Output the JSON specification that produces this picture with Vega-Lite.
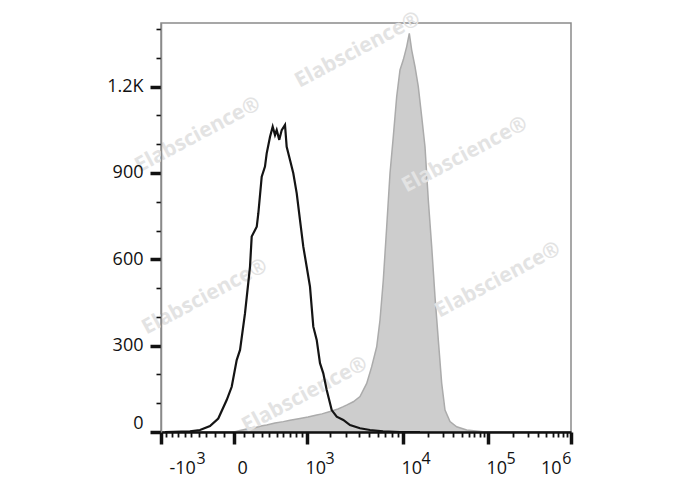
{
  "$schema": "https://vega.github.io/schema/vega-lite/v6.json",
  "width": 410,
  "height": 409,
  "autosize": {"type": "none"},
  "padding": {"left": 161, "top": 23, "right": 117, "bottom": 58},
  "background": "white",
  "config": {"view": {"stroke": "#8a8a8a", "strokeWidth": 1.5}, "font": "Open Sans"},
  "resolve": {"axis": {"x": "independent", "y": "independent"}},
  "datasets": {
    "stained": [
      {"fluorescence": 0, "count": 0},
      {"fluorescence": 59, "count": 5},
      {"fluorescence": 164, "count": 13},
      {"fluorescence": 221, "count": 15},
      {"fluorescence": 305, "count": 22},
      {"fluorescence": 364, "count": 24},
      {"fluorescence": 476, "count": 31},
      {"fluorescence": 597, "count": 36},
      {"fluorescence": 702, "count": 41},
      {"fluorescence": 871, "count": 47},
      {"fluorescence": 1036, "count": 52},
      {"fluorescence": 1376, "count": 59},
      {"fluorescence": 1610, "count": 63},
      {"fluorescence": 2009, "count": 71},
      {"fluorescence": 2468, "count": 80},
      {"fluorescence": 2810, "count": 88},
      {"fluorescence": 3069, "count": 94},
      {"fluorescence": 3551, "count": 105},
      {"fluorescence": 4126, "count": 123},
      {"fluorescence": 4773, "count": 169},
      {"fluorescence": 5310, "count": 227},
      {"fluorescence": 5896, "count": 296},
      {"fluorescence": 6312, "count": 389},
      {"fluorescence": 6753, "count": 528},
      {"fluorescence": 7236, "count": 713},
      {"fluorescence": 7733, "count": 899},
      {"fluorescence": 8259, "count": 1026},
      {"fluorescence": 8835, "count": 1165},
      {"fluorescence": 9429, "count": 1258},
      {"fluorescence": 10087, "count": 1293},
      {"fluorescence": 11115, "count": 1339},
      {"fluorescence": 11966, "count": 1385},
      {"fluorescence": 12803, "count": 1327},
      {"fluorescence": 14044, "count": 1269},
      {"fluorescence": 15395, "count": 1200},
      {"fluorescence": 16915, "count": 1096},
      {"fluorescence": 18526, "count": 991},
      {"fluorescence": 20281, "count": 806},
      {"fluorescence": 22256, "count": 644},
      {"fluorescence": 24347, "count": 470},
      {"fluorescence": 26626, "count": 320},
      {"fluorescence": 29188, "count": 169},
      {"fluorescence": 31901, "count": 76},
      {"fluorescence": 36486, "count": 36},
      {"fluorescence": 43641, "count": 18},
      {"fluorescence": 56933, "count": 7},
      {"fluorescence": 87650, "count": 1},
      {"fluorescence": 121550, "count": 0}
    ],
    "control": [
      {"fluorescence": -925, "count": 0},
      {"fluorescence": -519, "count": 2},
      {"fluorescence": -381, "count": 7},
      {"fluorescence": -256, "count": 21},
      {"fluorescence": -161, "count": 47},
      {"fluorescence": -72, "count": 111},
      {"fluorescence": -22, "count": 157},
      {"fluorescence": 26, "count": 250},
      {"fluorescence": 59, "count": 285},
      {"fluorescence": 110, "count": 412},
      {"fluorescence": 164, "count": 574},
      {"fluorescence": 183, "count": 679},
      {"fluorescence": 241, "count": 713},
      {"fluorescence": 260, "count": 760},
      {"fluorescence": 301, "count": 887},
      {"fluorescence": 342, "count": 922},
      {"fluorescence": 364, "count": 968},
      {"fluorescence": 408, "count": 1026},
      {"fluorescence": 444, "count": 1061},
      {"fluorescence": 476, "count": 1032},
      {"fluorescence": 500, "count": 1049},
      {"fluorescence": 537, "count": 1015},
      {"fluorescence": 573, "count": 1049},
      {"fluorescence": 623, "count": 1067},
      {"fluorescence": 649, "count": 991},
      {"fluorescence": 702, "count": 945},
      {"fluorescence": 756, "count": 899},
      {"fluorescence": 814, "count": 829},
      {"fluorescence": 871, "count": 737},
      {"fluorescence": 931, "count": 644},
      {"fluorescence": 994, "count": 574},
      {"fluorescence": 1109, "count": 505},
      {"fluorescence": 1237, "count": 366},
      {"fluorescence": 1376, "count": 320},
      {"fluorescence": 1519, "count": 239},
      {"fluorescence": 1671, "count": 204},
      {"fluorescence": 1838, "count": 146},
      {"fluorescence": 2101, "count": 76},
      {"fluorescence": 2389, "count": 53},
      {"fluorescence": 2810, "count": 42},
      {"fluorescence": 3292, "count": 24},
      {"fluorescence": 4126, "count": 13},
      {"fluorescence": 5122, "count": 7},
      {"fluorescence": 6712, "count": 2},
      {"fluorescence": 9429, "count": 0},
      {"fluorescence": 16137, "count": 0}
    ],
    "watermark": [
      {"fluorescence": 3947, "count": 1327, "label": "Elabscience®"},
      {"fluorescence": -408, "count": 1032, "label": "Elabscience®"},
      {"fluorescence": 54420, "count": 963, "label": "Elabscience®"},
      {"fluorescence": -317, "count": 469, "label": "Elabscience®"},
      {"fluorescence": 132150, "count": 528, "label": "Elabscience®"},
      {"fluorescence": 962, "count": 129, "label": "Elabscience®"}
    ]
  },
  "layer": [
    {
      "data": {"name": "stained"},
      "mark": {"type": "area", "color": "#cdcdcd", "stroke": "#ababab", "strokeWidth": 1.5},
      "encoding": {
        "x": {
          "field": "fluorescence",
          "type": "quantitative",
          "scale": {
            "type": "symlog",
            "constant": 1000,
            "domain": [-1000, 0, 1000, 10000, 100000, 1000000],
            "range": [0, 73, 146, 242, 327, 410],
            "nice": false
          },
          "axis": {
            "orient": "bottom",
            "zindex": 1,
            "title": null,
            "grid": false,
            "tickCount": 500,
            "values": [-1000, -900, -800, -700, -600, -500, -400, -300, -200, -100, 0, 100, 200, 300, 400, 500, 600, 700, 800, 900, 1000, 2000, 3000, 4000, 5000, 6000, 7000, 8000, 9000, 10000, 20000, 30000, 40000, 50000, 60000, 70000, 80000, 90000, 100000, 200000, 300000, 400000, 500000, 600000, 700000, 800000, 900000, 1000000],
            "labelExpr": "datum.value === -1000 ? '-10' : datum.value === 0 ? '0' : indexof([1000, 10000, 100000, 1000000], datum.value) >= 0 ? '10' : ''",
            "labelFont": "Open Sans",
            "labelFontSize": 18,
            "labelColor": "#111111",
            "labelBaseline": "top",
            "labelPadding": 15,
            "labelFlush": false,
            "labelOverlap": false,
            "labelAlign": {"condition": {"test": "datum.value === 1000000", "value": "right"}, "value": "left"},
            "labelOffset": {"condition": [{"test": "datum.value === -1000", "value": 8}, {"test": "datum.value === 0", "value": 3}, {"test": "datum.value === 1000000", "value": -10}], "value": -2},
            "tickSize": {"condition": {"test": "indexof([-1000, 0, 1000, 10000, 100000, 1000000], datum.value) >= 0", "value": 12}, "value": 5},
            "tickWidth": {"condition": {"test": "indexof([-1000, 0, 1000, 10000, 100000, 1000000], datum.value) >= 0", "value": 3.5}, "value": 1.8},
            "tickColor": "#111111",
            "domainColor": "#111111",
            "domainWidth": 2.5
          }
        },
        "y": {
          "field": "count",
          "type": "quantitative",
          "scale": {"domain": [0, 1421], "nice": false},
          "axis": {
            "zindex": 1,
            "title": null,
            "grid": false,
            "tickCount": 500,
            "values": [0, 100, 200, 300, 400, 500, 600, 700, 800, 900, 1000, 1100, 1200, 1300, 1400],
            "labelExpr": "datum.value === 1200 ? '1.2K' : datum.value % 300 === 0 ? datum.label : ''",
            "labelFont": "Open Sans",
            "labelFontSize": 18,
            "labelColor": "#111111",
            "labelPadding": 7,
            "labelFlush": false,
            "labelOverlap": false,
            "labelBaseline": {"condition": {"test": "datum.value === 0", "value": "bottom"}, "value": "middle"},
            "tickSize": {"condition": {"test": "datum.value % 300 === 0", "value": 11}, "value": 5},
            "tickWidth": {"condition": {"test": "datum.value % 300 === 0", "value": 3.5}, "value": 1.6},
            "tickColor": "#111111",
            "domainColor": "#8a8a8a",
            "domainWidth": 1.5
          }
        }
      }
    },
    {
      "data": {"name": "watermark"},
      "mark": {"type": "text", "angle": 332, "fontSize": 21, "fontWeight": "bold", "color": "#e3e3e3", "font": "Open Sans"},
      "encoding": {
        "x": {"field": "fluorescence", "type": "quantitative", "axis": null},
        "y": {"field": "count", "type": "quantitative", "axis": null},
        "text": {"field": "label"}
      }
    },
    {
      "data": {"name": "control"},
      "mark": {"type": "line", "color": "#141414", "strokeWidth": 2.2},
      "encoding": {
        "x": {
          "field": "fluorescence",
          "type": "quantitative",
          "axis": {
            "orient": "bottom",
            "zindex": 1,
            "title": null,
            "grid": false,
            "ticks": false,
            "tickSize": 0,
            "domain": false,
            "tickCount": 500,
            "values": [-1000, 1000, 10000, 100000, 1000000],
            "labelExpr": "datum.value === -1000 ? '3' : datum.value === 1000 ? '3' : datum.value === 10000 ? '4' : datum.value === 100000 ? '5' : '6'",
            "labelFont": "Open Sans",
            "labelFontSize": 16,
            "labelColor": "#111111",
            "labelBaseline": "top",
            "labelPadding": 18,
            "labelFlush": false,
            "labelOverlap": false,
            "labelAlign": {"condition": {"test": "datum.value === 1000000", "value": "right"}, "value": "left"},
            "labelOffset": {"condition": [{"test": "datum.value === -1000", "value": 35}, {"test": "datum.value === 1000000", "value": 0}], "value": 18}
          }
        },
        "y": {"field": "count", "type": "quantitative", "axis": null}
      }
    }
  ]
}
